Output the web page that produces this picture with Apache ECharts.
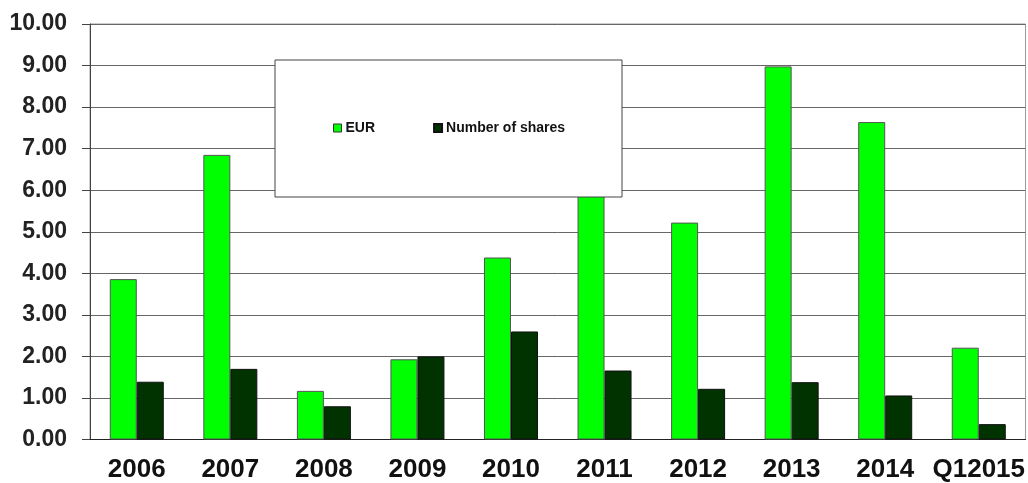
<!DOCTYPE html>
<html>
<head>
<meta charset="utf-8">
<style>
  html, body { margin: 0; padding: 0; background: #fff; }
  #chart { width: 1028px; height: 483px; }
</style>
<script src="https://cdn.jsdelivr.net/npm/echarts@6/dist/echarts.min.js"></script>
</head>
<body>
<div id="chart"></div>
<script>
const categories = ['2006', '2007', '2008', '2009', '2010', '2011', '2012', '2013', '2014', 'Q12015']
const eurValues = [3.86, 6.85, 1.17, 1.93, 4.38, 5.9, 5.22, 8.98, 7.64, 2.21]
const sharesValues = [1.39, 1.70, 0.80, 2.00, 2.60, 1.66, 1.22, 1.38, 1.06, 0.37]

const font = "'Liberation Sans', Arial, sans-serif"

const chart = echarts.init(document.getElementById('chart'))

chart.setOption({
  animation: false,
  grid: {
    left: 90,
    right: 2,
    top: 24,
    bottom: 43.5,
    show: true,
    borderColor: '#999',
    borderWidth: 1
  },
  legend: {
    left: 333,
    top: 121,
    padding: 0,
    z: 20,
    itemWidth: 8,
    itemHeight: 8,
    itemGap: 58,
    textStyle: { fontFamily: font, fontWeight: 'bold', fontSize: 14, color: '#111', padding: [0, 0, 0, -1] },
    data: [
      { name: 'EUR', icon: 'rect', itemStyle: { borderColor: '#333', borderWidth: 1 } },
      { name: 'Number of shares', icon: 'rect' }
    ]
  },
  graphic: [{
    type: 'rect',
    z: 10,
    shape: { x: 275, y: 60, width: 347, height: 137 },
    style: { fill: '#fff', stroke: '#444', lineWidth: 1 }
  }],
  xAxis: {
    type: 'category',
    data: categories,
    axisLine: { lineStyle: { color: '#222', width: 1 } },
    axisTick: { length: 7, lineStyle: { color: '#444' } },
    axisLabel: {
      interval: 0,
      margin: 17,
      fontFamily: font,
      fontWeight: 'bold',
      fontSize: 26,
      color: '#111'
    }
  },
  yAxis: {
    type: 'value',
    min: 0,
    max: 10,
    interval: 1,
    axisLine: { show: true, lineStyle: { color: '#444' } },
    axisTick: { show: true, length: 8, lineStyle: { color: '#444' } },
    splitLine: { lineStyle: { color: '#666', width: 1 } },
    axisLabel: {
      margin: 23,
      fontFamily: font,
      fontWeight: 'bold',
      fontSize: 23,
      color: '#222',
      formatter: v => v.toFixed(2)
    }
  },
  series: [{
    name: 'EUR',
    type: 'bar',
    barWidth: 27,
    barGap: '0%',
    data: eurValues,
    itemStyle: { color: '#00ff00', borderColor: '#555', borderWidth: 1 }
  }, {
    name: 'Number of shares',
    type: 'bar',
    barWidth: 27,
    data: sharesValues,
    itemStyle: { color: '#003300', borderColor: '#111', borderWidth: 1 }
  }]
})
</script>
</body>
</html>
